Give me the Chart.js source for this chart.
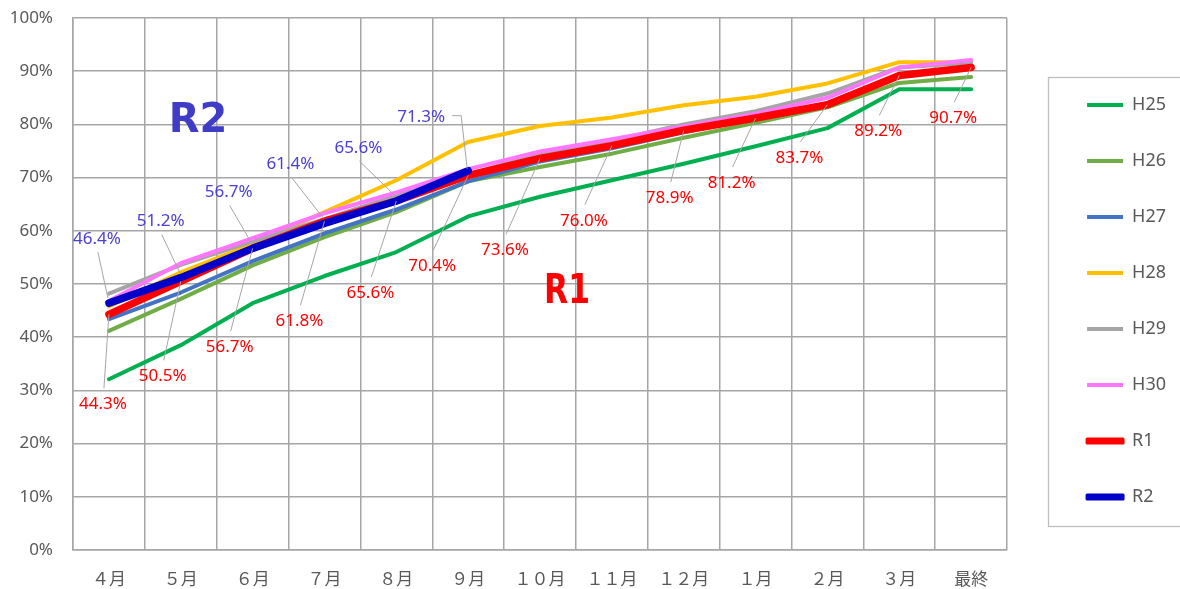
<!DOCTYPE html>
<html>
<head>
<meta charset="utf-8">
<script src="https://cdn.jsdelivr.net/npm/chart.js@4.4.1/dist/chart.umd.min.js"></script>
<style>
html,body{margin:0;padding:0;background:#fff;}
#wrap{width:1180px;height:589px;position:relative;}
</style>
</head>
<body>
<div id="wrap"><canvas id="c" width="1180" height="589"></canvas></div>
<script>
const categories = ['４月','５月','６月','７月','８月','９月','１０月','１１月','１２月','１月','２月','３月','最終'];
const seriesNames = ['H25','H26','H27','H28','H29','H30','R1','R2'];
const H25 = [32.1, 38.5, 46.4, 51.5, 56.0, 62.7, 66.4, 69.5, 72.6, 75.9, 79.3, 86.6, 86.6];
const H26 = [41.2, 47.2, 53.5, 58.8, 63.5, 69.3, 72.0, 74.5, 77.5, 80.3, 83.2, 87.8, 88.9];
const H27 = [43.4, 48.4, 54.3, 59.5, 64.0, 69.3, 73.0, 75.5, 78.5, 81.2, 84.0, 89.3, 90.5];
const H28 = [45.8, 52.2, 57.5, 63.5, 69.5, 76.7, 79.7, 81.3, 83.6, 85.2, 87.7, 91.7, 91.7];
const H29 = [48.2, 53.6, 58.0, 62.2, 66.6, 70.6, 74.5, 77.0, 80.0, 82.5, 85.8, 90.7, 91.6];
const H30 = [46.8, 53.9, 58.6, 63.3, 67.2, 71.6, 74.9, 77.2, 79.6, 82.0, 85.0, 90.7, 92.1];
const R1  = [44.3, 50.5, 56.7, 61.8, 65.6, 70.4, 73.6, 76.0, 78.9, 81.2, 83.7, 89.2, 90.7];
const R2  = [46.4, 51.2, 56.7, 61.4, 65.6, 71.3, null, null, null, null, null, null, null];
const yTicks = [0,10,20,30,40,50,60,70,80,90,100];

// label placement (offsets of the label centre from its point, px)
const r1LabelOffsets = [[-6,90],[-18,95],[-23,99],[-25,100],[-26,92],[-36,91],[-35,92],[-28,75],[-14,68],[-24,65],[-28,53],[-21,56],[-18,51]];
const r2LabelOffsets = [[-12,-64],[-20,-56],[-24,-56],[-34,-59],[-38,-53],[-47,-54,'elbow']];

const colors = ['#00B050','#70AD47','#4472C4','#FFC000','#A5A5A5','#FF77FF','#FF0000','#0000C8'];
const widths = [4,4,4,4,4,4,7.5,7.5];
const allData = [H25,H26,H27,H28,H29,H30,R1,R2];

const datasets = allData.map((d,i)=>({
  label: seriesNames[i],
  data: d,
  borderColor: colors[i],
  backgroundColor: colors[i],
  borderWidth: widths[i],
  pointRadius: 0,
  pointHoverRadius: 0,
  tension: 0,
  fill: false,
  spanGaps: false,
  borderCapStyle: 'round',
  borderJoinStyle: 'round',
  order: allData.length - 1 - i
}));

const labelPlugin = {
  id: 'labels',
  afterDatasetsDraw(chart){
    const ctx = chart.ctx;
    ctx.save();
    ctx.font = '17px "Noto Sans"';
    ctx.textAlign = 'center';
    ctx.textBaseline = 'middle';
    const draw = (dsIndex, offsets, color, values, below) => {
      const meta = chart.getDatasetMeta(dsIndex);
      meta.data.forEach((pt, i) => {
        const v = values[i];
        if (v == null || !offsets[i]) return;
        const lx = pt.x + offsets[i][0], ly = pt.y + offsets[i][1];
        ctx.strokeStyle = '#A6A6A6';
        ctx.lineWidth = 1;
        ctx.beginPath();
        if (offsets[i][2] === 'elbow') {
          ctx.moveTo(lx + 31, ly - 1);
          ctx.lineTo(lx + 40, ly - 1);
          ctx.lineTo(pt.x - 1, pt.y - 2);
        } else if (below) {
          ctx.moveTo(lx + 1, ly - 16);
          ctx.lineTo(pt.x, pt.y);
        } else {
          ctx.moveTo(lx + 1, ly + 13);
          ctx.lineTo(pt.x - 1, pt.y - 5);
        }
        ctx.stroke();
        ctx.fillStyle = color;
        ctx.fillText(v.toFixed(1) + '%', lx, ly);
      });
    };
    draw(6, r1LabelOffsets, '#FF0000', R1, true);
    draw(7, r2LabelOffsets, '#4B40D4', R2, false);

    // big series captions
    const xs = chart.scales.x, ys = chart.scales.y;
    ctx.font = 'bold 40px "DejaVu Sans"';
    ctx.fillStyle = '#3F3CC6';
    ctx.fillText('R2', xs.getPixelForValue(1.24), ys.getPixelForValue(80.6), 60);
    ctx.fillStyle = '#FF0000';
    ctx.fillText('R1', xs.getPixelForValue(6.375), ys.getPixelForValue(48.3), 46);
    ctx.restore();
  },
  afterDraw(chart){
    const lg = chart.legend;
    if (!lg || !lg.legendHitBoxes || !lg.legendHitBoxes.length) return;
    const hb = lg.legendHitBoxes;
    const top = hb[0].top + hb[0].height/2 - 28;
    const last = hb[hb.length-1];
    const bottom = last.top + last.height/2 + 29;
    const ctx = chart.ctx;
    ctx.save();
    ctx.strokeStyle = '#BFBFBF';
    ctx.lineWidth = 1.3;
    ctx.strokeRect(Math.round(lg.left) - 0.5, Math.round(top) + 0.5, 300, Math.round(bottom - top));
    ctx.restore();
  }
};

new Chart(document.getElementById('c'), {
  type: 'line',
  data: { labels: categories, datasets },
  plugins: [labelPlugin],
  options: {
    responsive: false,
    animation: false,
    devicePixelRatio: 1,
    layout: { padding: { top: 13, right: 4, bottom: 0, left: 0 } },
    interaction: { mode: null },
    plugins: {
      tooltip: { enabled: false },
      title: { display: false },
      legend: {
        position: 'right',
        align: 'center',
        sort: (a,b) => a.datasetIndex - b.datasetIndex,
        labels: {
          boxWidth: 36,
          boxHeight: 4,
          padding: 38,
          color: '#595959',
          font: { family: '"Noto Sans"', size: 18 },
          generateLabels: (chart) => chart.data.datasets.map((ds,i)=>({
            text: ds.label,
            fillStyle: ds.borderColor,
            strokeStyle: ds.borderColor,
            lineWidth: ds.borderWidth > 5 ? 3 : 0,
            lineJoin: 'round',
            lineCap: 'round',
            hidden: false,
            fontColor: '#595959',
            datasetIndex: i
          }))
        }
      }
    },
    scales: {
      x: {
        type: 'category',
        offset: true,
        grid: { offset: true, color: '#A6A6A6', lineWidth: 1.5, drawTicks: false },
        border: { display: true, color: '#A6A6A6', width: 1.5 },
        ticks: { color: '#595959', font: { family: '"Noto Sans CJK JP"', size: 17 }, padding: 18, maxRotation: 0, autoSkip: false },
        afterFit: (s) => { s.height = 39; s.paddingLeft = 0; s.paddingRight = 0; }
      },
      xTop: {
        type: 'category',
        position: 'top',
        display: true,
        grid: { drawOnChartArea: false, drawTicks: false, display: false },
        border: { display: false },
        ticks: { display: false },
        afterFit: (s) => { s.height = 5; s.paddingLeft = 0; s.paddingRight = 0; }
      },
      y: {
        min: 0, max: 100,
        afterBuildTicks: (s) => { s.ticks = yTicks.map(v => ({ value: v })); },
        grid: { color: '#A6A6A6', lineWidth: 1.5, drawTicks: false },
        border: { display: true, color: '#A6A6A6', width: 1.5 },
        ticks: { color: '#595959', font: { family: '"Noto Sans"', size: 17 }, padding: 20, callback: (v) => v + '%' },
        afterFit: (s) => { s.width = 73; s.paddingTop = 0; s.paddingBottom = 0; }
      },
      yRight: {
        type: 'linear',
        position: 'right',
        display: true,
        grid: { display: false, drawOnChartArea: false },
        border: { display: false },
        ticks: { display: false },
        afterFit: (s) => { s.width = 42; s.paddingTop = 0; s.paddingBottom = 0; }
      }
    }
  }
});
</script>
</body>
</html>
